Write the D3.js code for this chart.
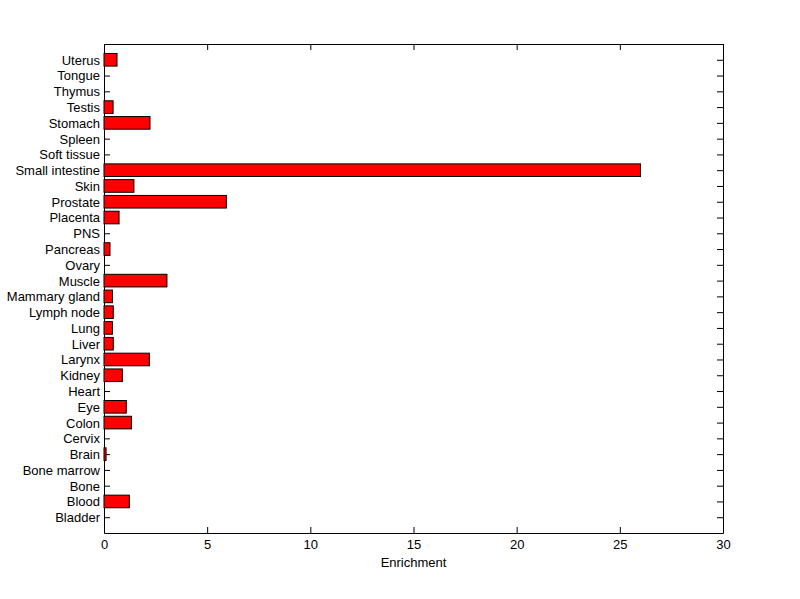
<!DOCTYPE html>
<html>
<head>
<meta charset="utf-8">
<script src="https://cdn.jsdelivr.net/npm/d3@7"></script>
<style>
  body { margin: 0; background: #fff; }
  text { font-family: "Liberation Sans", Arial, sans-serif; }
</style>
</head>
<body>
<div id="chart"></div>
<script>
// tissues, bottom to top as drawn
var tissues = ["Bladder", "Blood", "Bone", "Bone marrow", "Brain", "Cervix", "Colon", "Eye",
  "Heart", "Kidney", "Larynx", "Liver", "Lung", "Lymph node", "Mammary gland", "Muscle",
  "Ovary", "Pancreas", "PNS", "Placenta", "Prostate", "Skin", "Small intestine",
  "Soft tissue", "Spleen", "Stomach", "Testis", "Thymus", "Tongue", "Uterus"];
var enrichment = [0, 1.23, 0, 0, 0.1, 0, 1.33, 1.08,
  0, 0.89, 2.2, 0.45, 0.41, 0.45, 0.41, 3.05,
  0, 0.29, 0, 0.73, 5.93, 1.45, 26.0,
  0, 0, 2.23, 0.44, 0, 0, 0.63];
var xTicks = [0, 5, 10, 15, 20, 25, 30];

var data = tissues.map(function (t, i) {
  return { name: t, pos: i + 1, value: enrichment[i] };
});

// set the dimensions and margins of the graph
var margin = { top: 44, right: 77, bottom: 66, left: 104 },
  width = 800 - margin.left - margin.right,
  height = 599 - margin.top - margin.bottom;

var svg = d3
  .select("#chart")
  .append("svg")
  .attr("width", 800)
  .attr("height", 599)
  .append("g")
  .attr("transform", "translate(" + margin.left + "," + margin.top + ")");

var x = d3.scaleLinear().domain([0, 30]).range([0, width]);
var y = d3.scaleLinear().domain([0, tissues.length + 1]).range([height, 0]);
var band = (y(0) - y(1)) * 0.8;

var yTickVals = data.map(function (d) { return d.pos; });

// axes, ticks pointing inward like matlab
svg.append("g")
  .attr("transform", "translate(0," + height + ")")
  .call(d3.axisBottom(x).tickValues(xTicks).tickSizeInner(-6).tickSizeOuter(0).tickPadding(7));

svg.append("g")
  .call(d3.axisTop(x).tickValues(xTicks).tickSizeInner(-6).tickSizeOuter(0).tickFormat(""));

svg.append("g")
  .attr("class", "yaxis")
  .call(d3.axisLeft(y).tickValues(yTickVals).tickSizeInner(-6).tickSizeOuter(0).tickPadding(4)
    .tickFormat(function (v) { return tissues[v - 1]; }));

svg.append("g")
  .attr("transform", "translate(" + width + ",0)")
  .call(d3.axisRight(y).tickValues(yTickVals).tickSizeInner(-6).tickSizeOuter(0).tickFormat(""));

svg.selectAll(".domain").attr("stroke", "#000");
svg.selectAll(".tick line").attr("stroke", "#000");
svg.selectAll(".tick text").attr("font-size", 13).attr("fill", "#000")
  .attr("font-family", "Liberation Sans, Arial, sans-serif");
svg.selectAll(".yaxis .tick text").attr("dy", "0.34em");

// bars
svg.selectAll("rect.bar")
  .data(data.filter(function (d) { return d.value > 0; }))
  .enter()
  .append("rect")
  .attr("class", "bar")
  .attr("x", x(0))
  .attr("y", function (d) { return y(d.pos) - band / 2; })
  .attr("width", function (d) { return x(d.value) - x(0); })
  .attr("height", band)
  .style("fill", "#ff0000")
  .style("stroke", "#000")
  .style("stroke-width", 1);

svg.append("text")
  .attr("x", width / 2)
  .attr("y", height + 34)
  .attr("text-anchor", "middle")
  .attr("font-size", 13)
  .text("Enrichment");
</script>
</body>
</html>
